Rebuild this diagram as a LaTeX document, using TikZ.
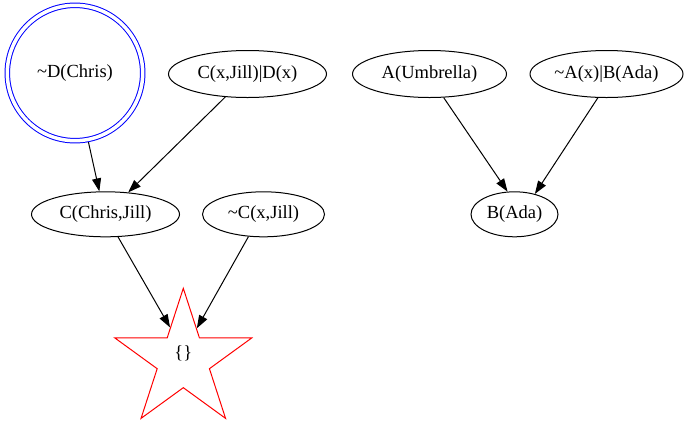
\documentclass[tikz,border=0pt]{standalone}
\usepackage{fontspec}
\setmainfont{Liberation Serif}
\usetikzlibrary{shapes.geometric,arrows.meta}
\tikzset{
  ell/.style={ellipse, draw=black, line width=1pt, inner sep=0pt, minimum height=47pt},
  edge/.style={line width=1pt, -{Triangle[length=13pt,width=9pt]}},
}
\begin{document}
\begin{tikzpicture}[x=1pt, y=-1pt, font=\fontsize{18.5}{22}\selectfont]
\useasboundingbox[fill=white] (0,0) rectangle (700,424);
\node[circle, draw=blue, line width=1pt, double, double distance=3.5pt, minimum size=135.4pt, inner sep=0pt, outer sep=2.7pt] (dc) at (75,73) {\textasciitilde D(Chris)};
\node[ell, minimum width=158pt] (cxjd) at (247.5,74) {C(x,Jill)\textbar D(x)};
\node[ell, minimum width=154pt] (au) at (429.5,74) {A(Umbrella)};
\node[ell, minimum width=153pt] (nab) at (606.5,74) {\textasciitilde A(x)\textbar B(Ada)};
\node[ell, minimum width=148pt, minimum height=45pt] (cj) at (105.5,214.3) {C(Chris,Jill)};
\node[ell, minimum width=122pt, minimum height=45pt] (ncj) at (263.5,214.3) {\textasciitilde C(x,Jill)};
\node[ell, minimum width=87pt, minimum height=45pt] (ba) at (514.5,214.3) {B(Ada)};
\node[star, star points=5, star point ratio=2.618, minimum size=143.8pt, inner sep=0pt, draw=red, line width=1pt] (empty) at (183.3,360.2) {};
\node (emptytext) at (183.3,353) {\{\}};
\draw[edge] (dc.281.6) -- (cj.105);
\draw[edge] (cxjd.226.8) -- (cj.44.5);
\draw[edge] (cj.299.5) -- (empty.112.4);
\draw[edge] (ncj.236.9) -- (empty.67.4);
\draw[edge] (au.301.2) -- (ba.107.9);
\draw[edge] (nab.250.5) -- (ba.45.1);
\end{tikzpicture}
\end{document}
